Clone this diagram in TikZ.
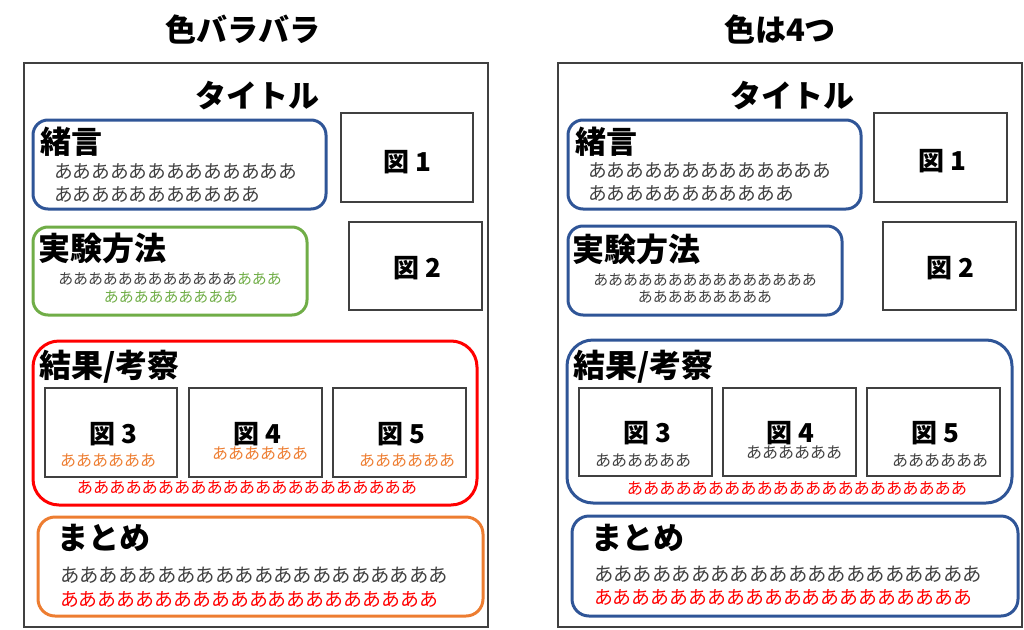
\documentclass[tikz,border=0pt]{standalone}
\usepackage{fontspec}
\setmainfont{Noto Sans CJK JP}
\definecolor{bl}{HTML}{2F5597}
\definecolor{gr}{HTML}{70AD47}
\definecolor{rd}{HTML}{FF0000}
\definecolor{orng}{HTML}{ED7D31}
\definecolor{txtgray}{HTML}{404040}
\definecolor{framegray}{HTML}{404040}
\newcommand\setfs[1]{\fontsize{#1}{#1}\selectfont}
% box: style, name, x1, y1, x2, y2
\newcommand\bx[6]{\node[#1, minimum width={(#5-#3)*1pt}, minimum height={(#6-#4)*1pt}] (#2) at ({(#3+#5)/2},{(#4+#6)/2}) {};}
\tikzset{
  frame/.style={draw=framegray, line width=1.4pt, inner sep=0pt, outer sep=0pt},
  figbox/.style={draw=framegray, line width=1.4pt, inner sep=0pt, outer sep=0pt},
  secbox/.style={draw=#1, line width=3pt, inner sep=0pt, outer sep=0pt, rounded corners=15pt},
  txt/.style={inner sep=0pt, outer sep=0pt, text=txtgray},
  head/.style={inner sep=0pt, outer sep=0pt, text=black, font=\bfseries\setfs{31}},
  fig/.style={inner sep=0pt, outer sep=0pt, text=black, font=\bfseries\setfs{26}},
}
\begin{document}
\begin{tikzpicture}[x=1pt,y=-1pt]
\useasboundingbox (0,0) rectangle (1024,629);
% ===== titles
\node[head] (t1) at (243,30) {色バラバラ};
\node[head] (t2) at (780,30) {色は4つ};
% ===== LEFT PANEL
\bx{frame}{Lframe}{24}{63}{488}{627}
\node[head] (Ltitle) at (257,96) {タイトル};
\bx{secbox=bl}{Lsec1}{33}{120}{326}{209}
\node[head,anchor=west] (Lh1) at (40,142) {緒言};
\node[txt,anchor=west,font=\setfs{18.7}] (Lp1a) at (54,172) {あああああああああああああ};
\node[txt,anchor=west,font=\setfs{18.7}] (Lp1b) at (54,195) {あああああああああああ};
\bx{figbox}{Lf1}{341}{113}{473}{202}
\node[fig] (Lf1t) at (407,162) {図 1};
\bx{secbox=gr}{Lsec2}{33}{227}{307}{315}
\node[head,anchor=west,font=\bfseries\setfs{32}] (Lh2) at (38,248) {実験方法};
\node[txt,font=\setfs{14.9}] (Lp2a) at (170,279) {ああああああああああああ\textcolor{gr}{あああ}};
\node[txt,font=\setfs{14.9},text=gr] (Lp2b) at (171,297) {あああああああああ};
\bx{figbox}{Lf2}{349}{222}{482}{310}
\node[fig] (Lf2t) at (417,268) {図 2};
\bx{secbox=rd,rounded corners=26pt}{Lsec3}{33}{341}{477}{505}
\node[head,anchor=west,font=\bfseries\setfs{32}] (Lh3) at (39,367) {結果/考察};
\bx{figbox}{Lf3}{45}{388}{177}{477}
\bx{figbox}{Lf4}{189}{388}{322}{477}
\bx{figbox}{Lf5}{333}{388}{466}{477}
\node[fig] (Lf3t) at (113,434) {図 3};
\node[fig] (Lf4t) at (257,434) {図 4};
\node[fig] (Lf5t) at (401,434) {図 5};
\node[txt,font=\setfs{16},text=orng] (Lc3) at (108,461) {ああああああ};
\node[txt,font=\setfs{16},text=orng] (Lc4) at (260,454) {ああああああ};
\node[txt,font=\setfs{16},text=orng] (Lc5) at (407,461) {ああああああ};
\node[txt,font=\setfs{16.2},text=rd] (Lp3) at (247,487) {あああああああああああああああああああああ};
\bx{secbox=orng,rounded corners=17pt}{Lsec4}{38}{517}{483}{616}
\node[head,anchor=west] (Lh4) at (57,538) {まとめ};
\node[txt,anchor=west,font=\setfs{19.4}] (Lp4a) at (60,575) {ああああああああああああああああああああ};
\node[txt,anchor=west,font=\setfs{18.9},text=rd] (Lp4b) at (60,599) {ああああああああああああああああああああ};
% ===== RIGHT PANEL
\bx{frame}{Rframe}{558}{63}{1022}{627}
\node[head] (Rtitle) at (792,96) {タイトル};
\bx{secbox=bl}{Rsec1}{568}{120}{861}{209}
\node[head,anchor=west] (Rh1) at (575,142) {緒言};
\node[txt,anchor=west,font=\setfs{18.7}] (Rp1a) at (588,171) {あああああああああああああ};
\node[txt,anchor=west,font=\setfs{18.7}] (Rp1b) at (588,194) {あああああああああああ};
\bx{figbox}{Rf1}{874}{113}{1007}{202}
\node[fig] (Rf1t) at (942,161) {図 1};
\bx{secbox=bl}{Rsec2}{568}{226}{842}{315}
\node[head,anchor=west,font=\bfseries\setfs{32}] (Rh2) at (572,249) {実験方法};
\node[txt,font=\setfs{14.9}] (Rp2a) at (705,280) {あああああああああああああああ};
\node[txt,font=\setfs{14.9}] (Rp2b) at (705,297) {あああああああああ};
\bx{figbox}{Rf2}{883}{222}{1016}{310}
\node[fig] (Rf2t) at (950,268) {図 2};
\bx{secbox=bl,rounded corners=26pt}{Rsec3}{567}{340}{1012}{503}
\node[head,anchor=west,font=\bfseries\setfs{32}] (Rh3) at (573,367) {結果/考察};
\bx{figbox}{Rf3}{579}{388}{712}{476}
\bx{figbox}{Rf4}{723}{388}{856}{476}
\bx{figbox}{Rf5}{867}{388}{1000}{476}
\node[fig] (Rf3t) at (647,433) {図 3};
\node[fig] (Rf4t) at (790,433) {図 4};
\node[fig] (Rf5t) at (935,433) {図 5};
\node[txt,font=\setfs{16}] (Rc3) at (643,461) {ああああああ};
\node[txt,font=\setfs{16}] (Rc4) at (794,453) {ああああああ};
\node[txt,font=\setfs{16}] (Rc5) at (940,461) {ああああああ};
\node[txt,font=\setfs{16.2},text=rd] (Rp3) at (797,488) {あああああああああああああああああああああ};
\bx{secbox=bl,rounded corners=17pt}{Rsec4}{572}{516}{1018}{616}
\node[head,anchor=west] (Rh4) at (591,538) {まとめ};
\node[txt,anchor=west,font=\setfs{19.4}] (Rp4a) at (594,574) {ああああああああああああああああああああ};
\node[txt,anchor=west,font=\setfs{18.9},text=rd] (Rp4b) at (594,597) {ああああああああああああああああああああ};
\end{tikzpicture}
\end{document}
